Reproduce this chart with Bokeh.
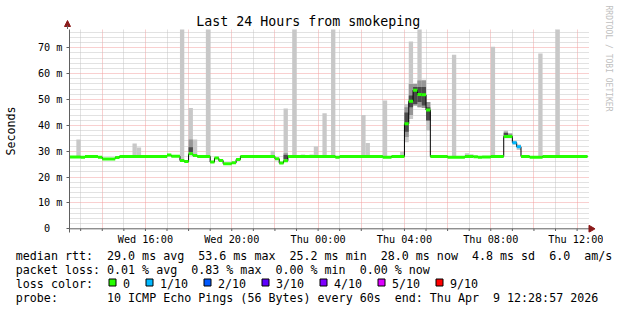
import re
from math import pi
from bokeh.plotting import figure
from bokeh.layouts import column, row
from bokeh.models import Range1d, FixedTicker
from bokeh.core.properties import value
from bokeh.embed import file_html
from bokeh.resources import INLINE

# ---- time axis: hours since Wed 00:00 ----
t_start = 12.4825
t_end = 36.4825
bin_h = 0.2

# ---- median rtt (ms), piecewise constant: change times and values ----
med_t = [12.48, 13.0, 13.2, 13.8, 14.0, 14.6, 14.8, 17.0, 17.2, 17.6, 17.8, 18.0, 18.2, 18.4,
         19.0, 19.2, 19.4, 19.6, 20.0, 20.2, 20.4, 22.0, 22.2, 22.4, 22.6, 24.8, 25.0, 27.0,
         27.4, 28.0, 28.2, 28.4, 28.6, 28.8, 29.0, 29.2, 30.0, 30.8, 31.2, 31.4, 31.6, 32.0,
         32.6, 33.0, 33.2, 33.4, 33.8, 34.4]
med_v = [27.8, 27.7, 28.0, 27.7, 27.0, 27.6, 28.0, 28.5, 28.1, 26.4, 26.0, 29.0, 28.3, 28.0,
         25.8, 27.4, 26.4, 25.2, 25.5, 26.8, 28.0, 27.1, 25.4, 26.3, 28.0, 27.7, 28.0, 27.7,
         28.0, 40.6, 49.3, 53.6, 51.9, 51.8, 45.9, 28.0, 27.7, 28.0, 27.9, 27.7, 27.8, 28.0,
         35.7, 33.3, 31.7, 28.0, 27.7, 28.0]
med_loss = [0] * 43 + [1, 1] + [0] * 3   # index into loss colours

# ---- smoke (ms): light outer band per 12-minute bin ----
smoke_t = [12.8, 15.4, 15.6, 17.6, 18.0, 18.2, 18.8, 21.8, 22.4, 22.8, 23.2, 23.6, 23.8, 24.2,
           24.6, 26.0, 26.2, 27.0, 27.8, 28.0, 28.2, 28.4, 28.6, 28.8, 29.0, 30.2, 30.8, 31.0,
           32.0, 32.6, 32.8, 33.0, 33.2, 34.2, 35.0]
smoke_lo = [27.8, 28.0, 28.0, 26.4, 28.5, 28.0, 28.0, 28.0, 26.0, 28.0, 28.0, 28.0, 28.0, 28.0,
            28.0, 28.0, 28.0, 28.0, 28.0, 33.5, 42.5, 47.7, 47.0, 46.7, 38.0, 28.0, 28.0, 28.0,
            28.0, 35.0, 35.0, 32.5, 30.5, 28.0, 28.0]
smoke_hi = [34.5, 33.0, 31.4, 77.7, 46.7, 34.5, 77.7, 30.2, 46.5, 77.7, 28.7, 28.7, 31.8, 44.7,
            77.7, 44.0, 33.2, 49.6, 29.8, 48.3, 72.4, 56.1, 77.7, 57.6, 49.0, 67.3, 29.2, 28.8,
            70.4, 38.0, 37.0, 34.1, 32.6, 67.8, 77.7]
# middle band
mid_t = [18.0, 22.4, 28.0, 28.2, 28.4, 28.6, 28.8, 29.0, 32.6, 32.8]
mid_lo = [29.6, 26.5, 35.5, 44.0, 47.7, 47.0, 46.7, 41.9, 35.5, 35.5]
mid_hi = [34.5, 29.2, 47.0, 56.0, 56.0, 57.3, 57.3, 49.0, 37.5, 36.8]
# dense core
dark_t = [18.0, 22.4, 28.0, 28.2, 28.4, 28.6, 28.8, 29.0, 32.6]
dark_lo = [29.6, 27.0, 37.5, 47.0, 48.3, 49.0, 47.7, 41.9, 36.0]
dark_hi = [31.5, 28.5, 45.0, 51.5, 54.8, 54.8, 54.8, 47.0, 37.0]

# ---- ticks ----
x_ticks = [16, 20, 24, 28, 32, 36]
x_tick_labels = ["Wed 16:00", "Wed 20:00", "Thu 00:00", "Thu 04:00", "Thu 08:00", "Thu 12:00"]
y_ticks = [0, 10, 20, 30, 40, 50, 60, 70]
y_tick_labels = ["0\u00a0\u00a0", "10 m", "20 m", "30 m", "40 m", "50 m", "60 m", "70 m"]

# ---- legend ----
loss_labels = ["0", "1/10", "2/10", "3/10", "4/10", "5/10", "9/10"]
loss_colors = ["#26ff00", "#00b8ff", "#0059ff", "#5e00ff", "#7e00ff", "#dd00ff", "#ff0000"]
title_text = "Last 24 Hours from smokeping"
side_text = "RRDTOOL / TOBI OETIKER"
row_median = "median rtt:  29.0 ms avg  53.6 ms max  25.2 ms min  28.0 ms now  4.8 ms sd  6.0  am/s"
row_loss = "packet loss: 0.01 % avg  0.83 % max  0.00 % min  0.00 % now"
row_color = "loss color:"
row_probe = "probe:       10 ICMP Echo Pings (56 Bytes) every 60s  end: Thu Apr  9 12:28:57 2026"

MONO = "DejaVu Sans Mono"
AXIS = "#606060"
ARROW = "#8b1a1a"
TOP_H = 29          # height of the title strip (canvas px)


def keep_spaces(s):
    return re.sub(r" {2,}", lambda m: "\u00a0" * len(m.group()), s)


def canvas_fig(w, h, x0, y0):
    f = figure(width=w, height=h, x_range=Range1d(x0, x0 + w), y_range=Range1d(y0 + h, y0),
               output_backend="svg", toolbar_location=None, title=None,
               x_axis_type=None, y_axis_type=None,
               min_border=0, min_border_left=0, min_border_right=0,
               min_border_top=0, min_border_bottom=0)
    f.outline_line_color = None
    f.background_fill_color = "white"
    f.border_fill_color = "white"
    f.grid.visible = False
    return f


# ---- main chart: canvas y TOP_H..249, frame x 67..595, y TOP_H..232 ----
px_h = 520.0 / 24.0            # pixels per hour
px_ms = 2.586                  # pixels per ms
y_top = (228.3 - TOP_H) / px_ms
y_bot = -(232 - 228.3) / px_ms
x_hi = t_start + (595 - 67) / px_h

p = figure(width=603, height=249 - TOP_H, x_range=Range1d(t_start, x_hi),
           y_range=Range1d(y_bot, y_top),
           output_backend="svg", toolbar_location=None, title=None,
           min_border_left=67, min_border_right=8, min_border_top=0, min_border_bottom=17)
p.outline_line_color = None
p.background_fill_color = "white"
p.border_fill_color = "white"

# grids
p.xgrid.ticker = FixedTicker(ticks=list(range(14, 37, 2)), minor_ticks=list(range(13, 36, 2)))
p.ygrid.ticker = FixedTicker(ticks=y_ticks[1:], minor_ticks=[v for v in range(2, 78, 2) if v % 10])
for g in (p.xgrid[0], p.ygrid[0]):
    g.grid_line_color = "#f2a0a0"
    g.grid_line_dash = "1 1"
    g.grid_line_width = 1
    g.minor_grid_line_color = "#c4c4c4"
    g.minor_grid_line_dash = "1 1"
    g.minor_grid_line_width = 1
try:
    p.xgrid[0].cross_bounds = (0, y_top)
    p.ygrid[0].cross_bounds = (t_start, t_start + (588 - 67) / px_h)
except AttributeError:
    pass

# axes
xa = p.xaxis[0]
xa.ticker = FixedTicker(ticks=x_ticks, minor_ticks=[])
xa.major_label_overrides = dict(zip(x_ticks, x_tick_labels))
xa.axis_line_color = None
xa.major_tick_line_color = None
xa.minor_tick_line_color = None
xa.major_tick_out = 0
xa.major_tick_in = 0
xa.minor_tick_out = 0
xa.major_label_standoff = 1

ya = p.yaxis[0]
ya.ticker = FixedTicker(ticks=y_ticks, minor_ticks=[])
ya.major_label_overrides = dict(zip(y_ticks, y_tick_labels))
ya.axis_label = "Seconds"
ya.axis_label_text_font = MONO
ya.axis_label_text_font_size = "11.66px"
ya.axis_label_text_font_style = "normal"
ya.axis_label_text_color = "#000000"
ya.axis_label_standoff = 17
ya.axis_line_color = AXIS
ya.major_tick_line_color = AXIS
ya.major_tick_out = 3
ya.major_tick_in = 0
ya.minor_tick_out = 0
ya.minor_tick_in = 0
ya.major_label_standoff = 4
for a in (xa, ya):
    a.major_label_text_font = MONO
    a.major_label_text_font_size = "10.2px"
    a.major_label_text_color = "#000000"

# smoke
p.quad(left=smoke_t, right=[t + bin_h for t in smoke_t], bottom=smoke_lo, top=smoke_hi,
       fill_color="#c8c8c8", line_color=None)
p.quad(left=mid_t, right=[t + bin_h for t in mid_t], bottom=mid_lo, top=mid_hi,
       fill_color="#969696", line_color=None)
p.quad(left=dark_t, right=[t + bin_h for t in dark_t], bottom=dark_lo, top=dark_hi,
       fill_color="#4a4a4a", line_color=None)

# median: black step + loss-coloured thick segments
step_x = med_t + [t_end]
step_y = med_v + [med_v[-1]]
p.step(step_x, step_y, mode="after", line_color="#000000", line_width=1)
seg_end = med_t[1:] + [t_end]
p.segment(x0=med_t, x1=seg_end, y0=med_v, y1=med_v,
          line_color=[loss_colors[i] for i in med_loss], line_width=3, line_cap="butt")

# x axis line, hour ticks and arrow head
head_x = t_start + (590.5 - 67) / px_h
p.segment(x0=[t_start], x1=[head_x], y0=[0], y1=[0], line_color=AXIS, line_width=1)
hours = list(range(13, 37))
p.segment(x0=hours, x1=hours, y0=[0] * len(hours), y1=[-2.2 / px_ms] * len(hours),
          line_color=AXIS, line_width=1)
p.scatter(x=[head_x], y=[0], marker="triangle", angle=-pi / 2, size=7,
          fill_color=ARROW, line_color=ARROW)

# ---- title strip (canvas y 0..TOP_H) ----
TXT_DY = -3.0   # svg text sits ~3px low with the alphabetic baseline
tf = canvas_fig(603, TOP_H, 0, 0)
tf.text(x=[307.8], y=[24 + TXT_DY], text=[title_text], text_font=value(MONO),
        text_font_size="13.3px", text_color="#000000", text_align="center",
        text_baseline="alphabetic")
tf.patch(x=[64, 70, 67], y=[26, 26, 20], fill_color=ARROW, line_color=ARROW, line_width=1)
tf.segment(x0=[67], x1=[67], y0=[25], y1=[TOP_H], line_color=AXIS, line_width=1)

# ---- side strip with watermark (canvas x 603..617) ----
sf = canvas_fig(14, 249, 603, 0)
sf.text(x=[607.5], y=[58], text=[side_text], angle=-pi / 2, text_font=value(MONO),
        text_font_size="8px", text_color="#c0c0c0", text_align="center", text_baseline="middle")

# ---- legend strip (canvas y 249..310) ----
lf = canvas_fig(617, 61, 0, 249)
row_y = [258.3 + TXT_DY, 272.2 + TXT_DY, 286.1 + TXT_DY, 300.0 + TXT_DY]
rows_txt = [keep_spaces(s) for s in (row_median, row_loss, row_color, row_probe)]
lf.text(x=[15.3] * 4, y=row_y, text=rows_txt, text_font=value(MONO), text_font_size="11.66px",
        text_color="#000000", text_align="left", text_baseline="alphabetic")
sq_x = [108.5, 145.5, 203.5, 261.5, 319.5, 377.5, 435.5]
lf.quad(left=sq_x, right=[s + 7 for s in sq_x], top=[278.5] * 7, bottom=[285.5] * 7,
        fill_color=loss_colors, line_color="#000000", line_width=1)
lf.text(x=[s + 14 for s in sq_x], y=[row_y[2]] * 7, text=loss_labels, text_font=value(MONO),
        text_font_size="11.66px", text_color="#000000", text_align="left",
        text_baseline="alphabetic")

# nesting the title strip in its own row keeps it from being frame-aligned with the chart
layout = column(row(column(row(tf), p), sf), lf)
open("out.html", "w").write(file_html(layout, INLINE))
